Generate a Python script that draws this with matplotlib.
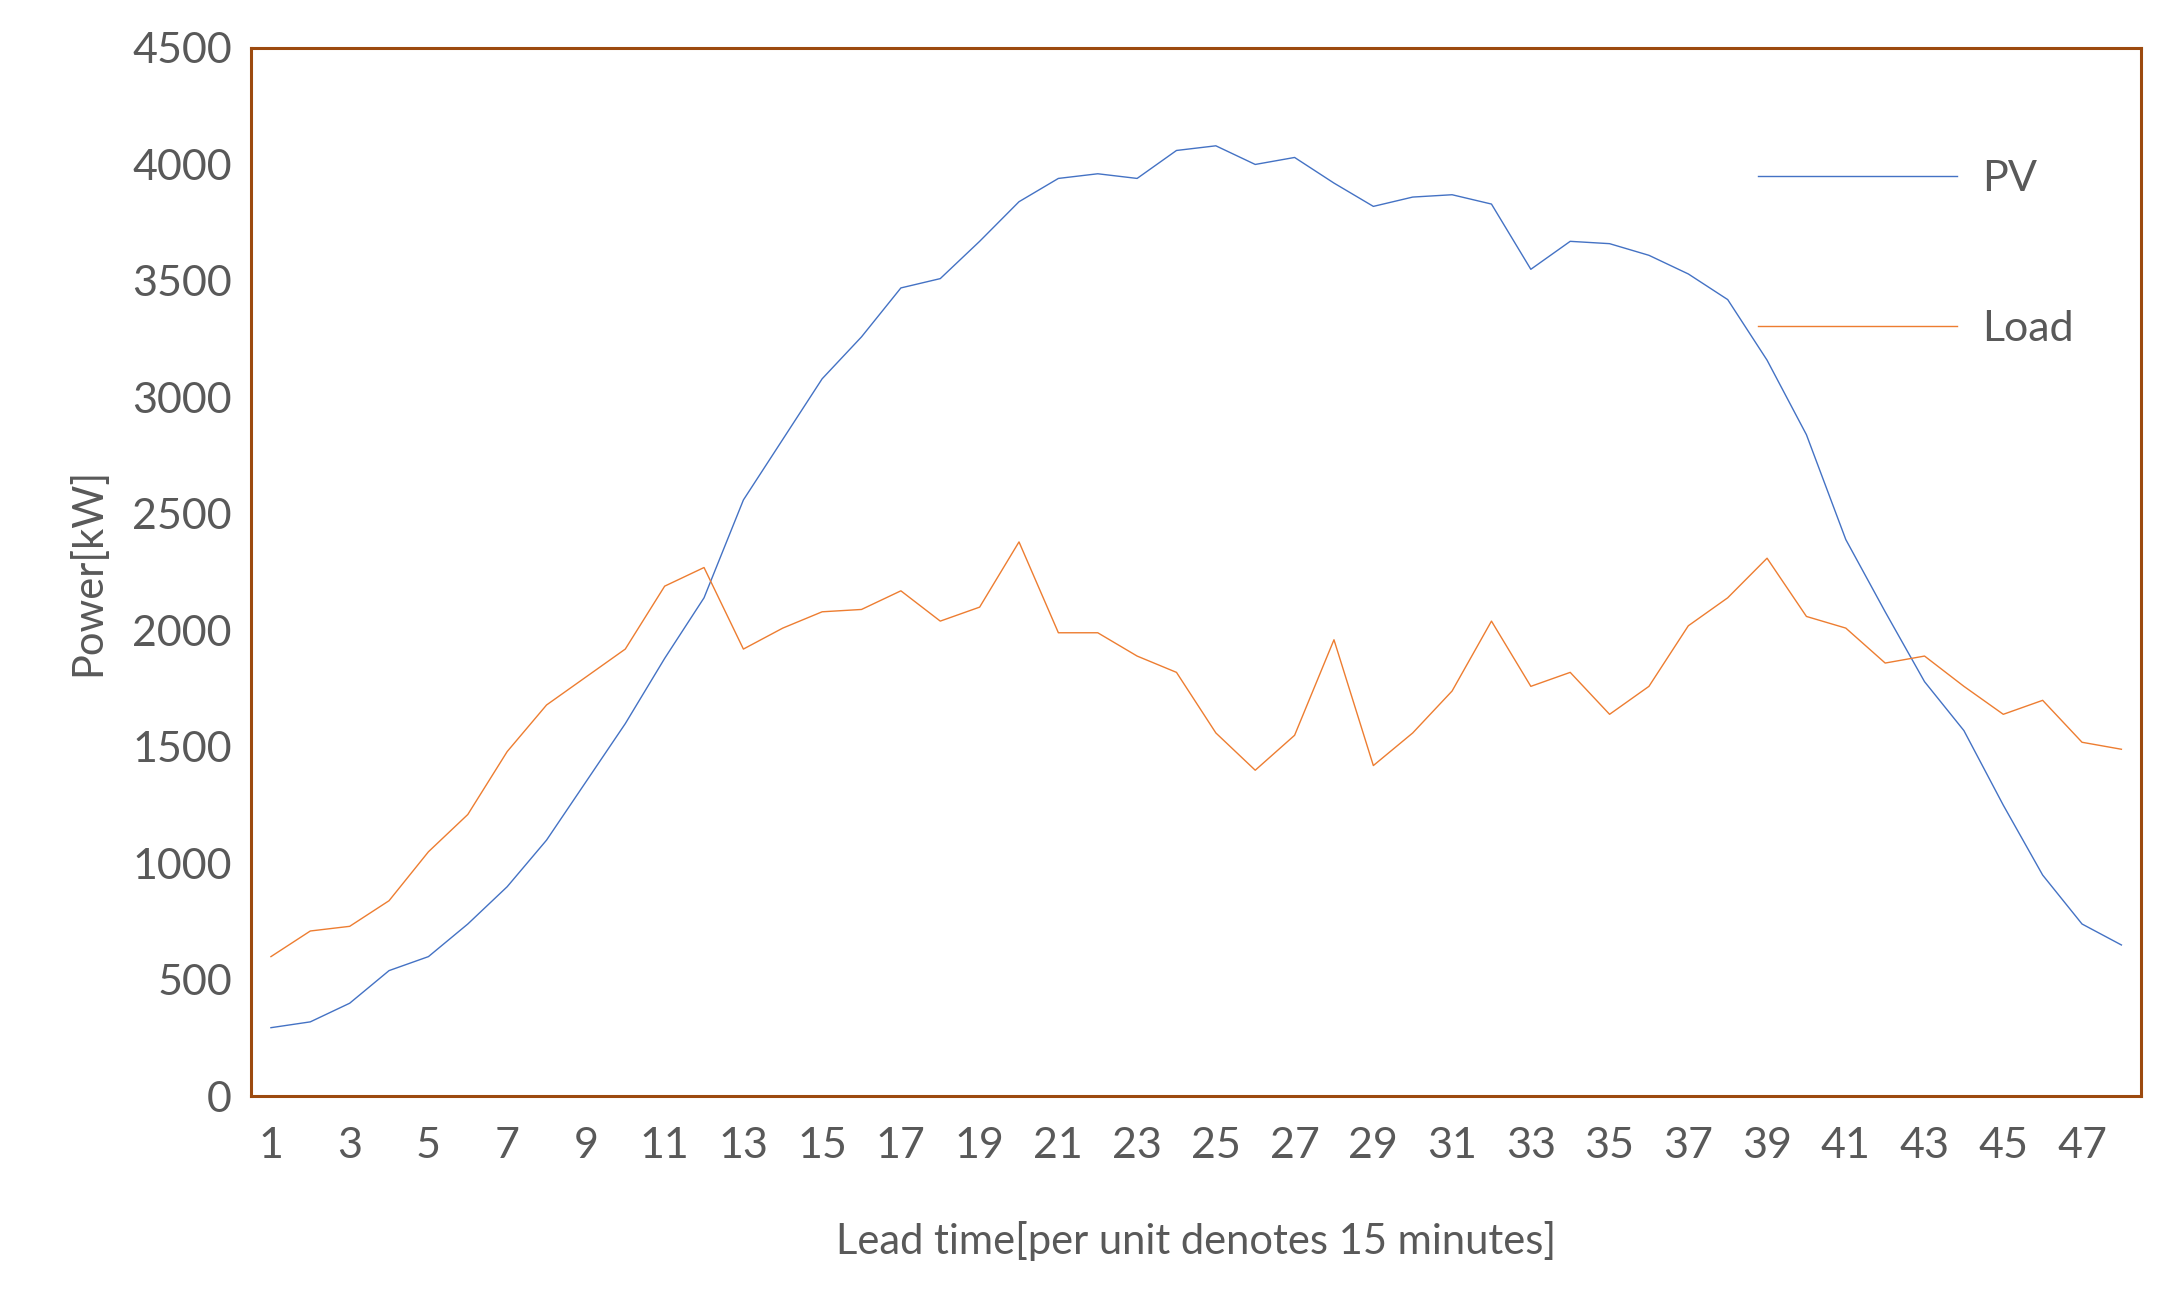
import matplotlib.pyplot as plt
import numpy as np

plt.rcParams['font.family'] = ['Lato', 'DejaVu Sans']

lead_time = np.arange(1, 49)
pv = [295, 320, 400, 540, 600, 740, 900, 1100, 1350, 1600, 1880, 2140,
      2560, 2820, 3080, 3260, 3470, 3510, 3670, 3840, 3940, 3960, 3940, 4060,
      4080, 4000, 4030, 3920, 3820, 3860, 3870, 3830, 3550, 3670, 3660, 3610,
      3530, 3420, 3160, 2840, 2390, 2080, 1780, 1570, 1250, 950, 740, 650]
load = [600, 710, 730, 840, 1050, 1210, 1480, 1680, 1800, 1920, 2190, 2270,
        1920, 2010, 2080, 2090, 2170, 2040, 2100, 2380, 1990, 1990, 1890, 1820,
        1560, 1400, 1550, 1960, 1420, 1560, 1740, 2040, 1760, 1820, 1640, 1760,
        2020, 2140, 2310, 2060, 2010, 1860, 1890, 1760, 1640, 1700, 1520, 1490]

fig = plt.figure(figsize=(21.66, 12.96), dpi=100)
ax = fig.add_axes([0.116, 0.154, 0.8725, 0.809])

ax.plot(lead_time, pv, color='#4472C4', linewidth=1.0, label='PV')
ax.plot(lead_time, load, color='#ED7D31', linewidth=1.0, label='Load')

ax.set_xlim(0.5, 48.5)
ax.set_ylim(0, 4500)
ax.set_xticks(lead_time[::2])
ax.set_yticks(np.arange(0, 4501, 500))
ax.tick_params(length=0, labelsize=31, labelcolor='#595959', pad=14)
ax.tick_params(axis='x', pad=22)

for s in ax.spines.values():
    s.set_color('#9C4A0F')
    s.set_linewidth(2.2)

ax.set_xlabel('Lead time[per unit denotes 15 minutes]', fontsize=30, color='#595959', labelpad=40)
ax.set_ylabel('Power[kW]', fontsize=30, color='#595959', labelpad=18)

ax.legend(loc='upper right', bbox_to_anchor=(0.985, 0.93), frameon=False,
          fontsize=31, handlelength=4.6, labelspacing=2.6, handletextpad=0.6,
          labelcolor='#595959')

fig.savefig('out.png')
